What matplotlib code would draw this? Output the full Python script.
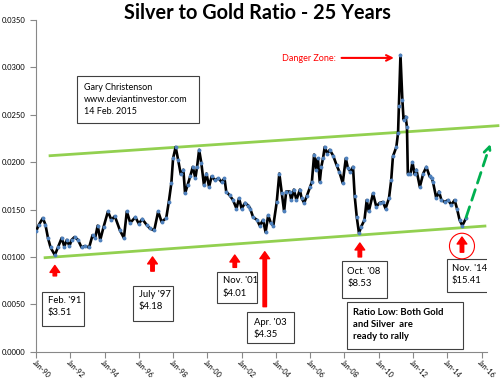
import matplotlib
matplotlib.use("Agg")
import matplotlib.pyplot as plt
from matplotlib.patches import Rectangle, Ellipse

plt.rcParams['font.family'] = ['Lato', 'DejaVu Sans']

# Silver/gold ratio (decimal year, ratio)
years = [1990.0, 1990.17, 1990.4, 1990.55, 1990.7, 1990.85, 1991.1, 1991.3, 1991.5, 1991.65,
         1991.8, 1991.95, 1992.08, 1992.25, 1992.45, 1992.66, 1992.85, 1993.1, 1993.3, 1993.45,
         1993.6, 1993.75, 1993.95, 1994.2, 1994.4, 1994.6, 1994.9, 1995.13, 1995.3, 1995.5,
         1995.8, 1996.0, 1996.2, 1996.45, 1996.65, 1996.9, 1997.13, 1997.33, 1997.6, 1997.75,
         1997.9, 1998.0, 1998.15, 1998.3, 1998.45, 1998.6, 1998.7, 1998.85, 1999.0, 1999.15,
         1999.3, 1999.4, 1999.52, 1999.65, 1999.8, 1999.95, 2000.1, 2000.25, 2000.45, 2000.65,
         2000.83, 2001.0, 2001.1, 2001.3, 2001.5, 2001.7, 2001.85, 2002.0, 2002.2, 2002.4,
         2002.5, 2002.67, 2002.9, 2003.06, 2003.25, 2003.4, 2003.55, 2003.7, 2003.85, 2004.05,
         2004.2, 2004.35, 2004.48, 2004.6, 2004.8, 2004.9, 2005.05, 2005.2, 2005.4, 2005.5,
         2005.65, 2005.8, 2006.0, 2006.1, 2006.23, 2006.35, 2006.45, 2006.56, 2006.65, 2006.75,
         2006.85, 2007.0, 2007.14, 2007.34, 2007.54, 2007.7, 2007.9, 2008.08, 2008.2, 2008.35,
         2008.5, 2008.6, 2008.72, 2008.85, 2008.98, 2009.17, 2009.3, 2009.42, 2009.67, 2009.86,
         2010.05, 2010.25, 2010.4, 2010.6, 2010.73, 2010.83, 2011.03, 2011.13, 2011.18, 2011.27,
         2011.38, 2011.45, 2011.57, 2011.65, 2011.7, 2011.85, 2011.97, 2012.1, 2012.2, 2012.4,
         2012.6, 2012.78, 2012.97, 2013.1, 2013.17, 2013.36, 2013.52, 2013.66, 2013.85, 2014.05,
         2014.24, 2014.43, 2014.57, 2014.72, 2014.88, 2015.1]
ratio = [0.0127, 0.0134, 0.0141, 0.0134, 0.0120, 0.0110, 0.0102, 0.0111, 0.0120, 0.0111,
         0.0118, 0.01115, 0.0118, 0.0121, 0.0118, 0.0110, 0.01115, 0.0110, 0.0123, 0.0120,
         0.0133, 0.0118, 0.0132, 0.0148, 0.0139, 0.0143, 0.0128, 0.0120, 0.0148, 0.0136,
         0.0142, 0.0135, 0.0140, 0.0134, 0.0130, 0.0128, 0.0148, 0.0137, 0.0141, 0.0158,
         0.0178, 0.0204, 0.0216, 0.0202, 0.0187, 0.0192, 0.0167, 0.0176, 0.0185, 0.0195,
         0.0183, 0.0195, 0.0213, 0.0199, 0.0176, 0.0188, 0.0174, 0.0185, 0.0181, 0.0183,
         0.0179, 0.0183, 0.0169, 0.0165, 0.0160, 0.0151, 0.0162, 0.0151, 0.0157, 0.0154,
         0.0151, 0.0142, 0.0139, 0.0133, 0.0139, 0.0126, 0.0144, 0.0136, 0.0133, 0.0158,
         0.0188, 0.0167, 0.0148, 0.0169, 0.0169, 0.0160, 0.0171, 0.0160, 0.0171, 0.0162,
         0.0157, 0.0164, 0.0174, 0.0179, 0.0208, 0.0192, 0.0204, 0.0179, 0.0195, 0.0204,
         0.0216, 0.0209, 0.0213, 0.0207, 0.0197, 0.0190, 0.0178, 0.0204, 0.0194, 0.0190,
         0.0195, 0.0164, 0.0142, 0.0125, 0.0132, 0.0139, 0.0160, 0.0148, 0.0167, 0.0153,
         0.0157, 0.0158, 0.0151, 0.0162, 0.0181, 0.0206, 0.0216, 0.0231, 0.0259, 0.0313,
         0.0266, 0.0245, 0.0248, 0.0237, 0.0188, 0.0187, 0.0200, 0.0187, 0.0192, 0.0174,
         0.0188, 0.0195, 0.0185, 0.0183, 0.0179, 0.0162, 0.0169, 0.0160, 0.0158, 0.0160,
         0.0155, 0.0160, 0.0151, 0.0139, 0.0133, 0.0141]

# Channel trend lines (start/end)
upper_x = [1990.82, 2016.96]
upper_y = [0.02068, 0.02385]
lower_x = [1990.53, 2016.2]
lower_y = [0.00992, 0.01326]

ytick_vals = [0.0, 0.005, 0.010, 0.015, 0.020, 0.025, 0.030, 0.035]
ytick_labels = ["0.0000", "0.0050", "0.0100", "0.0150", "0.0200", "0.0250", "0.0300", "0.0350"]
xtick_vals = list(range(1990, 2017, 2))
xtick_labels = ["Jan-90", "Jan-92", "Jan-94", "Jan-96", "Jan-98", "Jan-00", "Jan-02",
                "Jan-04", "Jan-06", "Jan-08", "Jan-10", "Jan-12", "Jan-14", "Jan-16"]

# Low-point callouts: (label, arrow x, arrow bottom, arrow top, box x0, box x1, box y0, box y1, text x, text y)
callouts = [
    ("Feb. '91\n$3.51", 1991.1, 0.0080, 0.0091, 1990.35, 1992.80, 0.00271, 0.00630, 1990.70, 0.00479),
    ("July '97\n$4.18", 1996.8, 0.0085, 0.0100, 1995.67, 1998.01, 0.00327, 0.00696, 1996.00, 0.00537),
    ("Nov. '01\n$4.01", 2001.6, 0.0089, 0.0102, 2000.55, 2002.89, 0.00514, 0.00841, 2000.89, 0.00683),
    ("Apr. '03\n$4.35", 2003.35, 0.00475, 0.01055, 2002.30, 2005.04, 0.00092, 0.00419, 2002.71, 0.00247),
    ("Oct. '08\n$8.53", 2008.9, 0.0100, 0.01147, 2007.84, 2010.47, 0.00567, 0.00957, 2008.17, 0.00786),
    ("Nov. '14\n$15.41", 2014.86, 0.0105, 0.0121, 2013.97, 2016.47, 0.00630, 0.00978, 2014.27, 0.00812),
]

fig = plt.figure(figsize=(5.0, 3.81), dpi=100)
ax = fig.add_axes([0.072, 0.0769, 0.9013, 0.8706])

ax.plot(years, ratio, color='black', lw=1.9, marker='o', ms=1.8,
        mfc='#4F81BD', mec='#4F81BD', zorder=3)

ax.plot(upper_x, upper_y, color='#92D050', lw=2, clip_on=False, zorder=2)
ax.plot(lower_x, lower_y, color='#92D050', lw=2, clip_on=False, zorder=2)

ax.set_xlim(1990, 2016.3)
ax.set_ylim(0, 0.035)
ax.set_yticks(ytick_vals)
ax.set_yticklabels(ytick_labels, fontsize=5.5, ha='left')
ax.set_xticks(xtick_vals)
ax.set_xticklabels(xtick_labels, fontsize=5.2, rotation=-45, ha='left', va='top',
                   rotation_mode='anchor')
ax.tick_params(axis='y', length=4, color='#888888', pad=20.5)
ax.tick_params(axis='x', length=4, color='#888888', pad=1)
for s in ['top', 'right']:
    ax.spines[s].set_visible(False)
for s in ['left', 'bottom']:
    ax.spines[s].set_color('#888888')
    ax.spines[s].set_linewidth(0.8)

fig.text(0.515, 0.966, "Silver to Gold Ratio - 25 Years", fontsize=14.3, fontweight='bold',
         ha='center', va='center')

# Author box
ax.add_patch(Rectangle((1992.39, 0.02413), 7.11, 0.00496, fill=False, ec='#404040', lw=0.8, zorder=4))
ax.text(1992.80, 0.02661, "Gary Christenson\nwww.deviantinvestor.com\n14 Feb. 2015",
        fontsize=6.5, ha='left', va='center', linespacing=1.45, zorder=5)

# Callouts
for lab, axx, ab, at, bx0, bx1, by0, by1, tx, ty in callouts:
    ax.annotate('', xy=(axx, at), xytext=(axx, ab),
                arrowprops=dict(facecolor='red', edgecolor='red', width=2.5, headwidth=7,
                                headlength=5), annotation_clip=False, zorder=5)
    ax.add_patch(Rectangle((bx0, by0), bx1 - bx0, by1 - by0, fc='white', ec='#404040',
                           lw=0.8, zorder=4))
    ax.text(tx, ty, lab, fontsize=6.8, ha='left', va='center', linespacing=1.45, zorder=5)

# Ratio low box
ax.add_patch(Rectangle((2008.13, 0.00028), 6.77, 0.00496, fc='white', ec='#404040', lw=0.8, zorder=4))
ax.text(2008.50, 0.00285, "Ratio Low: Both Gold\nand Silver  are\nready to rally",
        fontsize=6.8, fontweight='bold', ha='left', va='center', linespacing=1.45, zorder=5)

# Circle around the Nov '14 arrow
ax.add_patch(Ellipse((2014.86, 0.01115), 1.46, 0.0027, fill=False, ec='red', lw=0.8,
                     zorder=5, clip_on=False))

# Danger zone
ax.text(2007.49, 0.0309, "Danger Zone:", color='red', fontsize=6.5, ha='right', va='center')
ax.annotate('', xy=(2011.05, 0.0310), xytext=(2007.67, 0.0310),
            arrowprops=dict(arrowstyle='->', color='red', lw=1.5, mutation_scale=10))

# Projected rally arrow
ax.annotate('', xy=(2016.57, 0.0222), xytext=(2015.05, 0.0139),
            arrowprops=dict(arrowstyle='->', color='#00B050', lw=2, linestyle=(0, (4, 2.5)),
                            mutation_scale=12), annotation_clip=False)

fig.savefig("out.png", dpi=100)
